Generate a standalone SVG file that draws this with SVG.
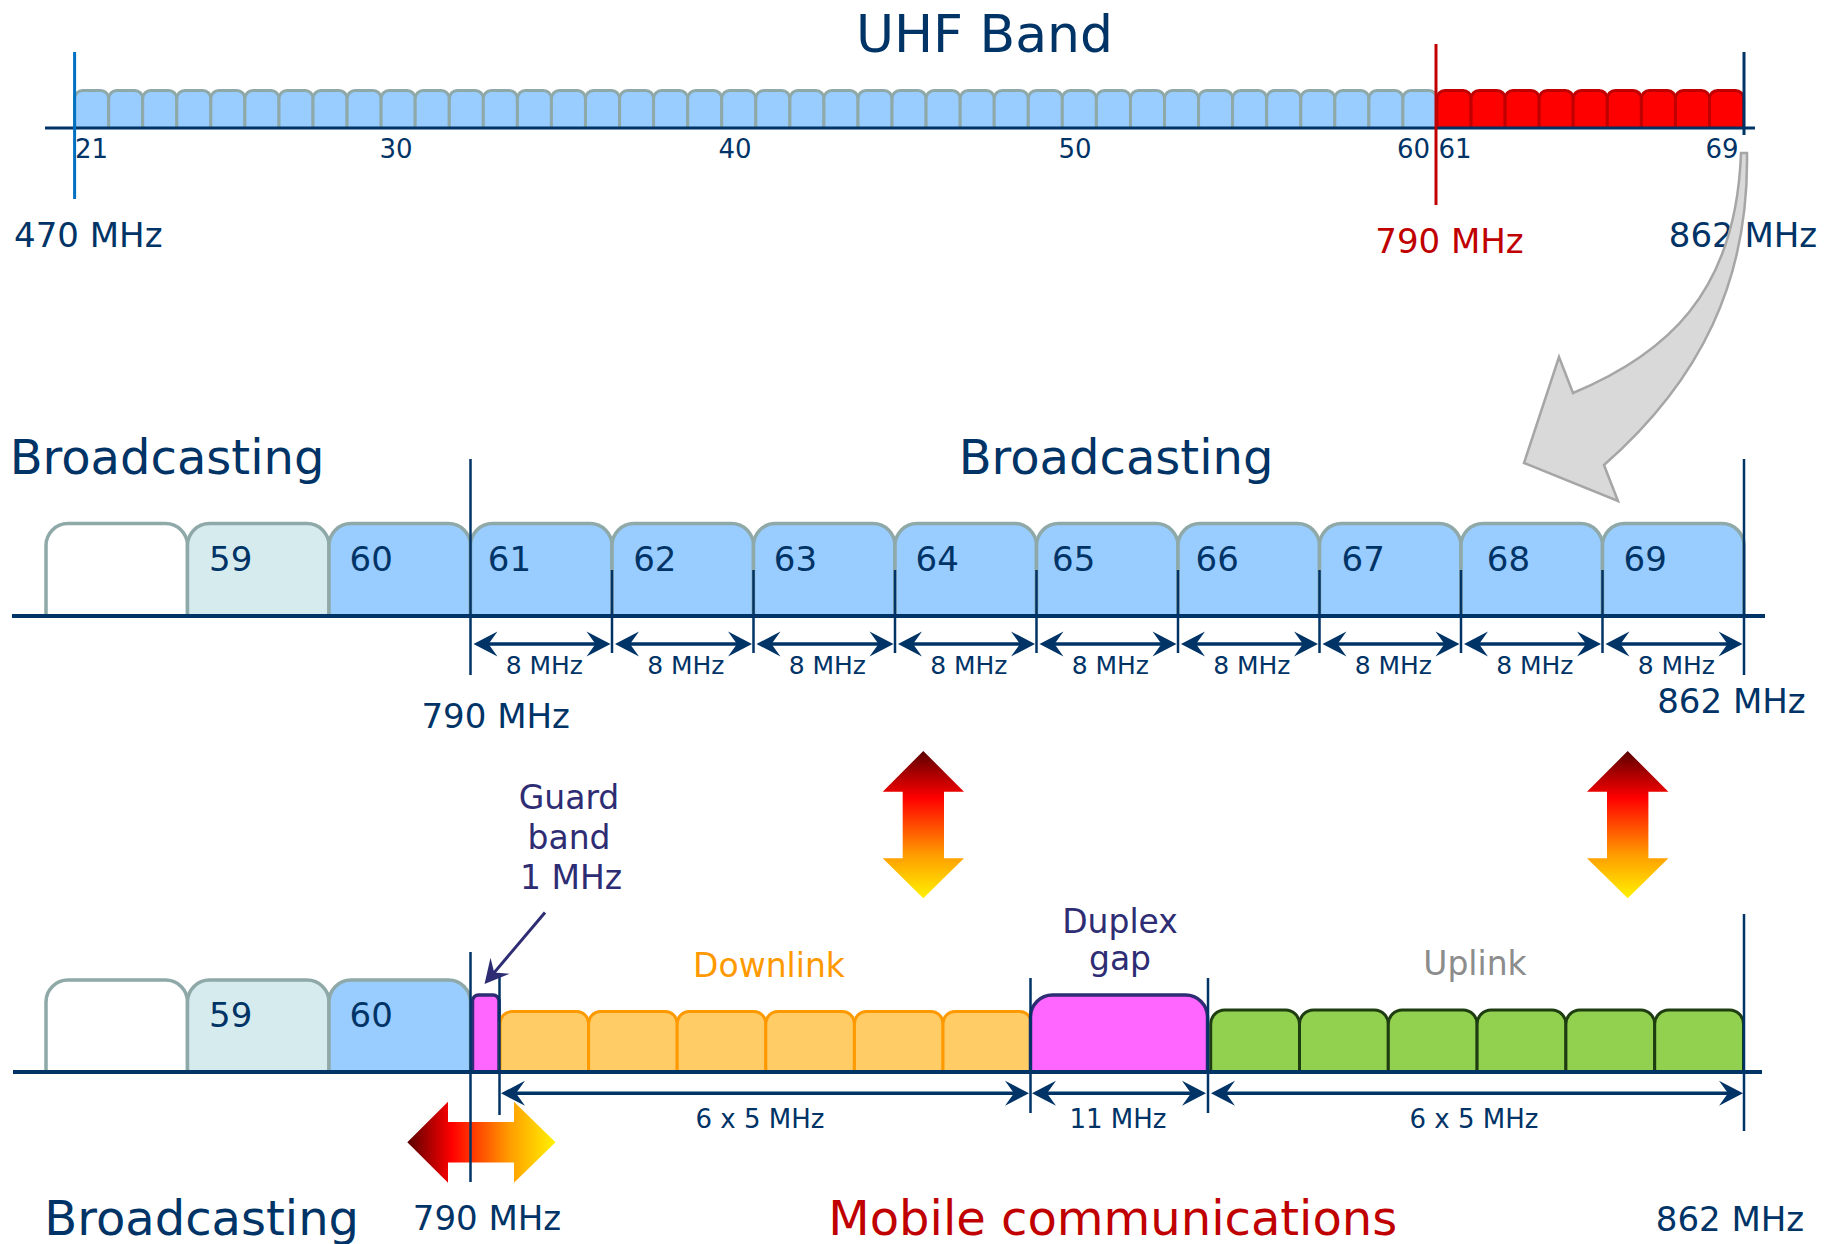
<svg xmlns="http://www.w3.org/2000/svg" xmlns:xlink="http://www.w3.org/1999/xlink" width="1830" height="1244" viewBox="0 0 1830 1244">
  <style>
    text { font-family: "DejaVu Sans", Verdana, sans-serif; }
    .navy { fill: #003366; }
    .red { fill: #C00000; }
    .ind { fill: #2E2D74; }
    .ax { stroke: #003366; fill: none; }
    .uhf { fill: #99CCFF; stroke: #8FA8A8; stroke-width: 3; }
    .uhfr { fill: #FF0000; stroke: #C00000; stroke-width: 3; }
    .ch { fill: #99CCFF; stroke: #8FA8A8; stroke-width: 3.5; }
    .chBlank { fill: #FFFFFF; stroke: #8FA8A8; stroke-width: 3.5; }
    .chLight { fill: #D6EBEE; stroke: #8FA8A8; stroke-width: 3.5; }
    .dl { fill: #FFCC66; stroke: #FF9900; stroke-width: 3; }
    .ul { fill: #92D050; stroke: #1E3D10; stroke-width: 3; }
    .gap { fill: #FF66FF; stroke: #2E2D74; stroke-width: 3.5; }
    .dim { stroke: #003366; stroke-width: 3.5; fill: none; marker-start: url(#dimHead); marker-end: url(#dimHead); }
    .tick { stroke: #003366; stroke-width: 2.5; }
  </style>
  <defs>
    <!-- single UHF raster channel, 34 px wide -->
    <path id="uhfCh" d="M0,37.5 V8 A8,8 0 0 1 8,0 H26.06 A8,8 0 0 1 34.06,8 V37.5"/>
    <!-- 8 MHz channel, enlarged view -->
    <path id="bigCh" d="M0,92.5 V22 A22,22 0 0 1 22,0 H119.5 A22,22 0 0 1 141.5,22 V92.5"/>
    <!-- 5 MHz LTE block -->
    <path id="dlCh" d="M0,60.5 V12 A12,12 0 0 1 12,0 H76.6 A12,12 0 0 1 88.6,12 V60.5"/>
    <path id="ulCh" d="M0,62 V14 A14,14 0 0 1 14,0 H74.8 A14,14 0 0 1 88.8,14 V62"/>
    <marker id="dimHead" viewBox="0 0 26 26" refX="15" refY="13" markerWidth="26" markerHeight="26" markerUnits="userSpaceOnUse" orient="auto-start-reverse">
      <path d="M25,13 L1,0.5 L10,13 L1,25.5 Z" fill="#003366"/>
    </marker>
    <marker id="indHead" viewBox="0 0 26 26" refX="15" refY="13" markerWidth="26" markerHeight="26" markerUnits="userSpaceOnUse" orient="auto">
      <path d="M25,13 L1,0.5 L10,13 L1,25.5 Z" fill="#2E2D74"/>
    </marker>
    <linearGradient id="heatV" x1="0" y1="0" x2="0" y2="1">
      <stop offset="0" stop-color="#5A0000"/>
      <stop offset="0.32" stop-color="#FF0000"/>
      <stop offset="0.7" stop-color="#FF9A00"/>
      <stop offset="1" stop-color="#FFF200"/>
    </linearGradient>
    <linearGradient id="heatH" x1="0" y1="0" x2="1" y2="0">
      <stop offset="0" stop-color="#5A0000"/>
      <stop offset="0.3" stop-color="#FF0000"/>
      <stop offset="0.7" stop-color="#FFA000"/>
      <stop offset="1" stop-color="#FFF200"/>
    </linearGradient>
  </defs>

  <rect width="1830" height="1244" fill="#FFFFFF"/>

  <!-- ===== UHF band overview ===== -->
  <g id="uhf-band">
    <text x="984.5" y="51.5" font-size="52" text-anchor="middle" class="navy">UHF Band</text>
    <g id="uhf-ch21-60" class="uhf">
      <use xlink:href="#uhfCh" transform="translate(74.6,90.5)"/>
      <use xlink:href="#uhfCh" transform="translate(108.7,90.5)"/>
      <use xlink:href="#uhfCh" transform="translate(142.7,90.5)"/>
      <use xlink:href="#uhfCh" transform="translate(176.8,90.5)"/>
      <use xlink:href="#uhfCh" transform="translate(210.8,90.5)"/>
      <use xlink:href="#uhfCh" transform="translate(244.9,90.5)"/>
      <use xlink:href="#uhfCh" transform="translate(279.0,90.5)"/>
      <use xlink:href="#uhfCh" transform="translate(313.0,90.5)"/>
      <use xlink:href="#uhfCh" transform="translate(347.1,90.5)"/>
      <use xlink:href="#uhfCh" transform="translate(381.1,90.5)"/>
      <use xlink:href="#uhfCh" transform="translate(415.2,90.5)"/>
      <use xlink:href="#uhfCh" transform="translate(449.3,90.5)"/>
      <use xlink:href="#uhfCh" transform="translate(483.3,90.5)"/>
      <use xlink:href="#uhfCh" transform="translate(517.4,90.5)"/>
      <use xlink:href="#uhfCh" transform="translate(551.4,90.5)"/>
      <use xlink:href="#uhfCh" transform="translate(585.5,90.5)"/>
      <use xlink:href="#uhfCh" transform="translate(619.6,90.5)"/>
      <use xlink:href="#uhfCh" transform="translate(653.6,90.5)"/>
      <use xlink:href="#uhfCh" transform="translate(687.7,90.5)"/>
      <use xlink:href="#uhfCh" transform="translate(721.7,90.5)"/>
      <use xlink:href="#uhfCh" transform="translate(755.8,90.5)"/>
      <use xlink:href="#uhfCh" transform="translate(789.9,90.5)"/>
      <use xlink:href="#uhfCh" transform="translate(823.9,90.5)"/>
      <use xlink:href="#uhfCh" transform="translate(858.0,90.5)"/>
      <use xlink:href="#uhfCh" transform="translate(892.0,90.5)"/>
      <use xlink:href="#uhfCh" transform="translate(926.1,90.5)"/>
      <use xlink:href="#uhfCh" transform="translate(960.2,90.5)"/>
      <use xlink:href="#uhfCh" transform="translate(994.2,90.5)"/>
      <use xlink:href="#uhfCh" transform="translate(1028.3,90.5)"/>
      <use xlink:href="#uhfCh" transform="translate(1062.3,90.5)"/>
      <use xlink:href="#uhfCh" transform="translate(1096.4,90.5)"/>
      <use xlink:href="#uhfCh" transform="translate(1130.5,90.5)"/>
      <use xlink:href="#uhfCh" transform="translate(1164.5,90.5)"/>
      <use xlink:href="#uhfCh" transform="translate(1198.6,90.5)"/>
      <use xlink:href="#uhfCh" transform="translate(1232.6,90.5)"/>
      <use xlink:href="#uhfCh" transform="translate(1266.7,90.5)"/>
      <use xlink:href="#uhfCh" transform="translate(1300.8,90.5)"/>
      <use xlink:href="#uhfCh" transform="translate(1334.8,90.5)"/>
      <use xlink:href="#uhfCh" transform="translate(1368.9,90.5)"/>
      <use xlink:href="#uhfCh" transform="translate(1402.9,90.5)"/>
    </g>
    <g id="uhf-ch61-69" class="uhfr">
      <use xlink:href="#uhfCh" transform="translate(1437.0,90.5)"/>
      <use xlink:href="#uhfCh" transform="translate(1471.1,90.5)"/>
      <use xlink:href="#uhfCh" transform="translate(1505.1,90.5)"/>
      <use xlink:href="#uhfCh" transform="translate(1539.2,90.5)"/>
      <use xlink:href="#uhfCh" transform="translate(1573.2,90.5)"/>
      <use xlink:href="#uhfCh" transform="translate(1607.3,90.5)"/>
      <use xlink:href="#uhfCh" transform="translate(1641.4,90.5)"/>
      <use xlink:href="#uhfCh" transform="translate(1675.4,90.5)"/>
      <use xlink:href="#uhfCh" transform="translate(1709.5,90.5)"/>
    </g>
    <line x1="45" y1="128" x2="1755" y2="128" class="ax" stroke-width="3"/>
    <line x1="74.6" y1="52" x2="74.6" y2="199" stroke="#0070C0" stroke-width="3"/>
    <line x1="1436" y1="44" x2="1436" y2="205" stroke="#C00000" stroke-width="3"/>
    <line x1="1744" y1="52" x2="1744" y2="135" class="ax" stroke-width="3"/>
    <g font-size="26" class="navy">
      <text x="75" y="158">21</text>
      <text x="379.5" y="158">30</text>
      <text x="718.5" y="158">40</text>
      <text x="1058.5" y="158">50</text>
      <text x="1397" y="158">60</text>
      <text x="1438.5" y="158">61</text>
      <text x="1705.5" y="158">69</text>
    </g>
    <text x="88.3" y="247" font-size="34" text-anchor="middle" class="navy">470 MHz</text>
    <text x="1449.5" y="253" font-size="34" text-anchor="middle" class="red">790 MHz</text>
    <text x="1743" y="247" font-size="34" text-anchor="middle" class="navy">862 MHz</text>
  </g>

  <!-- curved pointer from channels 61-69 to the enlarged view -->
  <g id="zoom-pointer">
    <path d="M1747,153 C1749,280 1701,380 1604,465 L1618,501 L1524,463 L1559,357 L1573,393 C1664,355 1736,295 1741,153 Z" fill="#D9D9D9" stroke="#A6A6A6" stroke-width="2.5" stroke-linejoin="miter"/>
  </g>

  <!-- ===== current allocation (broadcasting up to ch 69) ===== -->
  <g id="current-plan">
    <text x="167" y="473.5" font-size="48" text-anchor="middle" class="navy">Broadcasting</text>
    <text x="1116" y="474" font-size="48" text-anchor="middle" class="navy">Broadcasting</text>
    <g id="cur-ch58"><use xlink:href="#bigCh" class="chBlank" transform="translate(46,523.5)"/></g>
    <g id="cur-ch59"><use xlink:href="#bigCh" class="chLight" transform="translate(187.5,523.5)"/><text x="209" y="570.5" font-size="34" class="navy">59</text></g>
    <g id="cur-ch60"><use xlink:href="#bigCh" class="ch" transform="translate(329,523.5)"/><text x="349.5" y="570.5" font-size="34" class="navy">60</text></g>
    <g id="cur-ch61"><use xlink:href="#bigCh" class="ch" transform="translate(470.5,523.5)"/><text x="487.8" y="570.5" font-size="34" class="navy">61</text></g>
    <g id="cur-ch62"><use xlink:href="#bigCh" class="ch" transform="translate(612,523.5)"/><text x="633.2" y="570.5" font-size="34" class="navy">62</text></g>
    <g id="cur-ch63"><use xlink:href="#bigCh" class="ch" transform="translate(753.5,523.5)"/><text x="773.8" y="570.5" font-size="34" class="navy">63</text></g>
    <g id="cur-ch64"><use xlink:href="#bigCh" class="ch" transform="translate(895,523.5)"/><text x="915.5" y="570.5" font-size="34" class="navy">64</text></g>
    <g id="cur-ch65"><use xlink:href="#bigCh" class="ch" transform="translate(1036.5,523.5)"/><text x="1052" y="570.5" font-size="34" class="navy">65</text></g>
    <g id="cur-ch66"><use xlink:href="#bigCh" class="ch" transform="translate(1178,523.5)"/><text x="1195.5" y="570.5" font-size="34" class="navy">66</text></g>
    <g id="cur-ch67"><use xlink:href="#bigCh" class="ch" transform="translate(1319.5,523.5)"/><text x="1341.5" y="570.5" font-size="34" class="navy">67</text></g>
    <g id="cur-ch68"><use xlink:href="#bigCh" class="ch" transform="translate(1461,523.5)"/><text x="1486.8" y="570.5" font-size="34" class="navy">68</text></g>
    <g id="cur-ch69"><use xlink:href="#bigCh" class="ch" transform="translate(1602.5,523.5)"/><text x="1623.5" y="570.5" font-size="34" class="navy">69</text></g>
    <line x1="12" y1="616" x2="1765" y2="616" class="ax" stroke-width="4"/>
    <line x1="470.5" y1="459" x2="470.5" y2="675" class="ax" stroke-width="2.5"/>
    <line x1="1744" y1="459" x2="1744" y2="675" class="ax" stroke-width="2.5"/>
    <g class="tick">
      <line x1="612" y1="570" x2="612" y2="653"/>
      <line x1="753.5" y1="570" x2="753.5" y2="653"/>
      <line x1="895" y1="570" x2="895" y2="653"/>
      <line x1="1036.5" y1="570" x2="1036.5" y2="653"/>
      <line x1="1178" y1="570" x2="1178" y2="653"/>
      <line x1="1319.5" y1="570" x2="1319.5" y2="653"/>
      <line x1="1461" y1="570" x2="1461" y2="653"/>
      <line x1="1602.5" y1="570" x2="1602.5" y2="653"/>
    </g>
    <g id="cur-spacing">
      <line x1="483.5" y1="644" x2="600.5" y2="644" class="dim"/>
      <line x1="625" y1="644" x2="742" y2="644" class="dim"/>
      <line x1="766.5" y1="644" x2="883.5" y2="644" class="dim"/>
      <line x1="908" y1="644" x2="1025" y2="644" class="dim"/>
      <line x1="1049.5" y1="644" x2="1166.5" y2="644" class="dim"/>
      <line x1="1191" y1="644" x2="1308" y2="644" class="dim"/>
      <line x1="1332.5" y1="644" x2="1449.5" y2="644" class="dim"/>
      <line x1="1474" y1="644" x2="1591" y2="644" class="dim"/>
      <line x1="1615.5" y1="644" x2="1732.5" y2="644" class="dim"/>
    </g>
    <g font-size="25" text-anchor="middle" class="navy">
      <text x="544.3" y="674">8 MHz</text>
      <text x="685.8" y="674">8 MHz</text>
      <text x="827.3" y="674">8 MHz</text>
      <text x="968.8" y="674">8 MHz</text>
      <text x="1110.3" y="674">8 MHz</text>
      <text x="1251.8" y="674">8 MHz</text>
      <text x="1393.3" y="674">8 MHz</text>
      <text x="1534.8" y="674">8 MHz</text>
      <text x="1676.3" y="674">8 MHz</text>
    </g>
    <text x="495.7" y="728.3" font-size="34" text-anchor="middle" class="navy">790 MHz</text>
    <text x="1731.4" y="713.3" font-size="34" text-anchor="middle" class="navy">862 MHz</text>
  </g>

  <!-- transition arrows between the two plans -->
  <g id="shift-arrows">
    <path id="shift-down" fill="url(#heatV)" d="M923.3,751 L964,791.7 L944,791.7 L944,858.3 L964,858.3 L923.3,898.3 L882.7,858.3 L902.7,858.3 L902.7,791.7 L882.7,791.7 Z"/>
    <path id="shift-up" fill="url(#heatV)" d="M1627.7,751 L1668.4,791.7 L1648.4,791.7 L1648.4,858.3 L1668.4,858.3 L1627.7,898.3 L1587,858.3 L1607,858.3 L1607,791.7 L1587,791.7 Z"/>
    <path id="shift-side" fill="url(#heatH)" d="M407.3,1142.2 L448,1101.7 L448,1121.9 L514,1121.9 L514,1101.7 L555.5,1142.2 L514,1182.7 L514,1162.5 L448,1162.5 L448,1182.7 Z"/>
  </g>

  <!-- ===== 800 MHz band plan (digital dividend) ===== -->
  <g id="new-plan">
    <g id="new-ch58"><use xlink:href="#bigCh" class="chBlank" transform="translate(46,980) scale(1,0.995)"/></g>
    <g id="new-ch59"><use xlink:href="#bigCh" class="chLight" transform="translate(187.5,980) scale(1,0.995)"/><text x="209" y="1026.7" font-size="34" class="navy">59</text></g>
    <g id="new-ch60"><use xlink:href="#bigCh" class="ch" transform="translate(329,980) scale(1,0.995)"/><text x="349.5" y="1026.7" font-size="34" class="navy">60</text></g>
    <g id="guard-band">
      <path class="gap" stroke-width="3" d="M472.5,1072 V1001 A6,6 0 0 1 478.5,995 H493 A6,6 0 0 1 499,1001 V1072"/>
    </g>
    <g id="downlink" class="dl">
      <use xlink:href="#dlCh" transform="translate(500,1011.5)"/>
      <use xlink:href="#dlCh" transform="translate(588.6,1011.5)"/>
      <use xlink:href="#dlCh" transform="translate(677.2,1011.5)"/>
      <use xlink:href="#dlCh" transform="translate(765.8,1011.5)"/>
      <use xlink:href="#dlCh" transform="translate(854.4,1011.5)"/>
      <use xlink:href="#dlCh" transform="translate(943,1011.5)"/>
    </g>
    <g id="duplex-gap">
      <path class="gap" d="M1030.5,1072 V1017 A22,22 0 0 1 1052.5,995 H1185.5 A22,22 0 0 1 1207.5,1017 V1072"/>
    </g>
    <g id="uplink" class="ul">
      <use xlink:href="#ulCh" transform="translate(1210.7,1010)"/>
      <use xlink:href="#ulCh" transform="translate(1299.5,1010)"/>
      <use xlink:href="#ulCh" transform="translate(1388.3,1010)"/>
      <use xlink:href="#ulCh" transform="translate(1477.1,1010)"/>
      <use xlink:href="#ulCh" transform="translate(1565.9,1010)"/>
      <use xlink:href="#ulCh" transform="translate(1654.7,1010)"/>
    </g>
    <line x1="13" y1="1072" x2="1762" y2="1072" class="ax" stroke-width="4"/>
    <line x1="470.5" y1="952" x2="470.5" y2="1182" class="ax" stroke-width="2.5"/>
    <line x1="499.5" y1="977" x2="499.5" y2="1115" class="ax" stroke-width="2.5"/>
    <line x1="1030.5" y1="978" x2="1030.5" y2="1113" class="ax" stroke-width="2.5"/>
    <line x1="1208" y1="978" x2="1208" y2="1113" class="ax" stroke-width="2.5"/>
    <line x1="1744" y1="914" x2="1744" y2="1131" class="ax" stroke-width="2.5"/>
    <g id="new-spacing">
      <line x1="511" y1="1093.3" x2="1019" y2="1093.3" class="dim"/>
      <line x1="1042" y1="1093.3" x2="1196" y2="1093.3" class="dim"/>
      <line x1="1221" y1="1093.3" x2="1733" y2="1093.3" class="dim"/>
    </g>
    <g font-size="26" text-anchor="middle" class="navy">
      <text x="760" y="1128.3">6 x 5 MHz</text>
      <text x="1118" y="1128.3">11 MHz</text>
      <text x="1474" y="1128.3">6 x 5 MHz</text>
    </g>
    <text x="769" y="976.7" font-size="33" text-anchor="middle" fill="#FF9900">Downlink</text>
    <text x="1475" y="975" font-size="33" text-anchor="middle" fill="#8C8C8C">Uplink</text>
    <g font-size="33" text-anchor="middle" class="ind">
      <text x="1120" y="933">Duplex</text>
      <text x="1120" y="970">gap</text>
      <text x="569" y="808.5">Guard</text>
      <text x="569" y="849.3">band</text>
      <text x="571" y="888.5">1 MHz</text>
    </g>
    <line x1="545" y1="912.5" x2="491" y2="976.4" stroke="#2E2D74" stroke-width="3" marker-end="url(#indHead)"/>
    <text x="201.7" y="1235" font-size="48" text-anchor="middle" class="navy">Broadcasting</text>
    <text x="487" y="1230" font-size="34" text-anchor="middle" class="navy">790 MHz</text>
    <text x="1112.8" y="1235" font-size="48" text-anchor="middle" class="red">Mobile communications</text>
    <text x="1730" y="1231" font-size="34" text-anchor="middle" class="navy">862 MHz</text>
  </g>
</svg>
